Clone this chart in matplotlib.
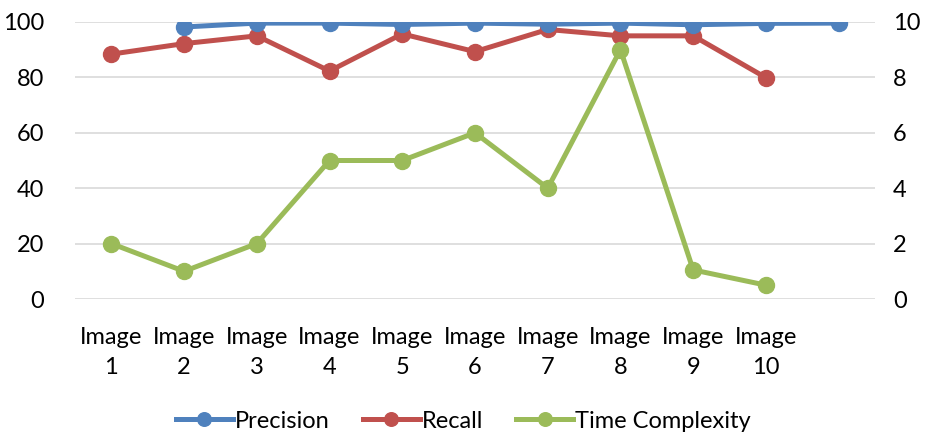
import numpy as np
import matplotlib
matplotlib.use('Agg')
import matplotlib.pyplot as plt

plt.rcParams['font.family'] = ['Lato', 'DejaVu Sans']

# dados
categorias = ['Image\n1', 'Image\n2', 'Image\n3', 'Image\n4', 'Image\n5',
              'Image\n6', 'Image\n7', 'Image\n8', 'Image\n9', 'Image\n10', '']
precision = [np.nan, 98.2, 99.6, 99.6, 99.1, 99.6, 99.2, 99.6, 99.0, 99.5, 99.6]
recall = [88.4, 92.2, 95.0, 82.3, 95.7, 89.3, 97.3, 95.0, 95.0, 79.9, np.nan]
time_complexity = [2, 1, 2, 5, 5, 6, 4, 9, 1.05, 0.5, np.nan]

azul = '#4F81BD'
vermelho = '#C0504D'
verde = '#9BBB59'

fig = plt.figure(figsize=(9.27, 4.34), dpi=100)
ax = fig.add_axes([75 / 927, 1 - 299 / 434, 800 / 927, 277 / 434])
ax2 = ax.twinx()

x = np.arange(len(categorias))
l1, = ax.plot(x, precision, color=azul, lw=3.6, marker='o', ms=11.5, label='Precision', zorder=4)
l2, = ax.plot(x, recall, color=vermelho, lw=3.6, marker='o', ms=11.5, label='Recall', zorder=3)
l3, = ax2.plot(x, time_complexity, color=verde, lw=3.6, marker='o', ms=11.5, label='Time Complexity')

ax.set_xlim(-0.5, len(categorias) - 0.5)
ax.set_ylim(0, 100)
ax2.set_ylim(0, 10)
ax.set_yticks(range(0, 101, 20))
ax2.set_yticks(range(0, 11, 2))
ax.set_xticks(x)
ax.set_xticklabels(categorias, fontsize=17, linespacing=1.55)

ax.grid(axis='y', color='#D9D9D9', lw=1.2)
ax.set_axisbelow(True)
for a in (ax, ax2):
    for s in a.spines.values():
        s.set_visible(False)
    a.tick_params(length=0, labelsize=17)
ax.tick_params(axis='y', pad=22)
ax2.tick_params(axis='y', pad=13)
ax.tick_params(axis='x', pad=20)

fig.legend(handles=[l1, l2, l3], loc='center', bbox_to_anchor=(0.5, 1 - 421 / 434),
           ncol=3, frameon=False, fontsize=17, handlelength=2.4, columnspacing=1.4,
           handletextpad=0.1, markerscale=0.85)

fig.savefig('out.png', dpi=100)
